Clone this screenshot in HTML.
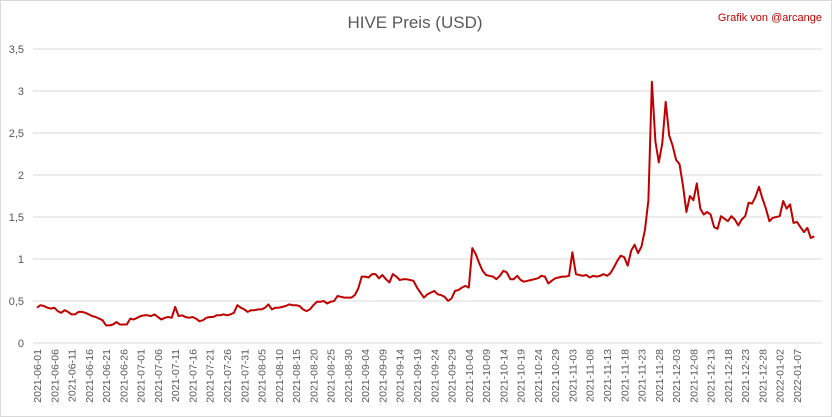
<!DOCTYPE html>
<html><head><meta charset="utf-8"><style>
body{margin:0;background:#fff;}
svg{display:block;font-family:"Liberation Sans",sans-serif;}
</style></head><body>
<svg id="chart" width="832" height="417" viewBox="0 0 832 417">
<rect x="0.5" y="0.5" width="831" height="416" fill="#fff" stroke="#d9d9d9"/>
<text x="415" y="28" text-anchor="middle" font-size="17" fill="#595959">HIVE Preis (USD)</text>
<text x="822" y="21" text-anchor="end" font-size="11" fill="#c00000">Grafik von @arcange</text>
<g id="grid"></g><g id="xlabels"></g><g id="series"></g>
</svg>
<script>
const startDate = "2021-06-01";
const yTicks = [0,0.5,1,1.5,2,2.5,3,3.5];
const yTickLabels = ["0","0,5","1","1,5","2","2,5","3","3,5"];
const prices = [0.42,0.45,0.44,0.42,0.41,0.42,0.38,0.36,0.39,0.37,0.34,0.34,0.37,0.37,0.36,0.34,0.32,0.31,0.29,0.27,
0.21,0.21,0.22,0.25,0.22,0.22,0.22,0.29,0.28,0.30,0.32,0.33,0.33,0.32,0.34,0.31,0.28,0.30,0.31,0.30,
0.43,0.32,0.33,0.31,0.30,0.31,0.29,0.26,0.27,0.30,0.31,0.31,0.33,0.33,0.34,0.33,0.34,0.36,0.45,0.42,
0.40,0.37,0.39,0.39,0.40,0.40,0.42,0.46,0.40,0.42,0.42,0.43,0.44,0.46,0.45,0.45,0.44,0.40,0.38,0.40,
0.45,0.49,0.49,0.50,0.47,0.49,0.50,0.56,0.55,0.54,0.54,0.54,0.57,0.65,0.79,0.79,0.78,0.82,0.82,0.77,
0.81,0.76,0.72,0.82,0.79,0.75,0.76,0.76,0.75,0.74,0.66,0.60,0.54,0.58,0.60,0.62,0.58,0.57,0.55,0.50,
0.53,0.62,0.63,0.66,0.68,0.66,1.13,1.06,0.95,0.86,0.81,0.80,0.79,0.76,0.80,0.86,0.84,0.76,0.76,0.80,
0.75,0.73,0.74,0.75,0.76,0.77,0.80,0.79,0.71,0.74,0.77,0.78,0.79,0.79,0.80,1.08,0.82,0.81,0.80,0.81,
0.78,0.80,0.79,0.80,0.82,0.80,0.83,0.90,0.98,1.04,1.02,0.92,1.10,1.17,1.07,1.15,1.35,1.70,3.11,2.40,
2.15,2.38,2.87,2.47,2.35,2.18,2.13,1.87,1.56,1.75,1.70,1.90,1.60,1.53,1.56,1.53,1.38,1.36,1.51,1.48,
1.45,1.51,1.47,1.40,1.47,1.51,1.67,1.66,1.74,1.86,1.72,1.60,1.45,1.49,1.50,1.51,1.69,1.60,1.65,1.43,
1.44,1.38,1.32,1.37,1.25,1.27];
const labelEvery = 5;
const lastLabelIndex = 220;

const NS="http://www.w3.org/2000/svg";
const x0=37, dx=3.4545, y0=343, yScale=84;
const xPos=i=>x0+i*dx;
const yPos=v=>y0-v*yScale;
function dateStr(i){const d=new Date(startDate+"T00:00:00Z");d.setUTCDate(d.getUTCDate()+i);return d.toISOString().slice(0,10);}
const grid=document.getElementById("grid");
yTicks.forEach((t,k)=>{
  const l=document.createElementNS(NS,"line");
  l.setAttribute("x1",33);l.setAttribute("x2",822);l.setAttribute("y1",yPos(t));l.setAttribute("y2",yPos(t));
  l.setAttribute("stroke","#d9d9d9");l.setAttribute("stroke-width","1");
  
  
  grid.appendChild(l);
  const tx=document.createElementNS(NS,"text");
  tx.setAttribute("x",24);tx.setAttribute("y",yPos(t)+4);tx.setAttribute("text-anchor","end");
  tx.setAttribute("font-size","11");tx.setAttribute("fill","#595959");tx.textContent=yTickLabels[k];
  
  
  grid.appendChild(tx);
});
const xl=document.getElementById("xlabels");
for(let i=0;i<prices.length && i<=lastLabelIndex;i+=labelEvery){
  const tx=document.createElementNS(NS,"text");
  const x=xPos(i)+4;
  tx.setAttribute("transform","translate("+x+",349) rotate(-90)");
  tx.setAttribute("text-anchor","end");tx.setAttribute("font-size","10.5");tx.setAttribute("fill","#595959");
  tx.textContent=dateStr(i);
  
  
  xl.appendChild(tx);
}
const p=document.createElementNS(NS,"polyline");
p.setAttribute("points",prices.map((v,i)=>xPos(i).toFixed(1)+","+yPos(v).toFixed(1)).join(" "));
p.setAttribute("fill","none");p.setAttribute("stroke","#c00000");p.setAttribute("stroke-width","2");p.setAttribute("stroke-linejoin","round");


document.getElementById("series").appendChild(p);
</script>
</body></html>
